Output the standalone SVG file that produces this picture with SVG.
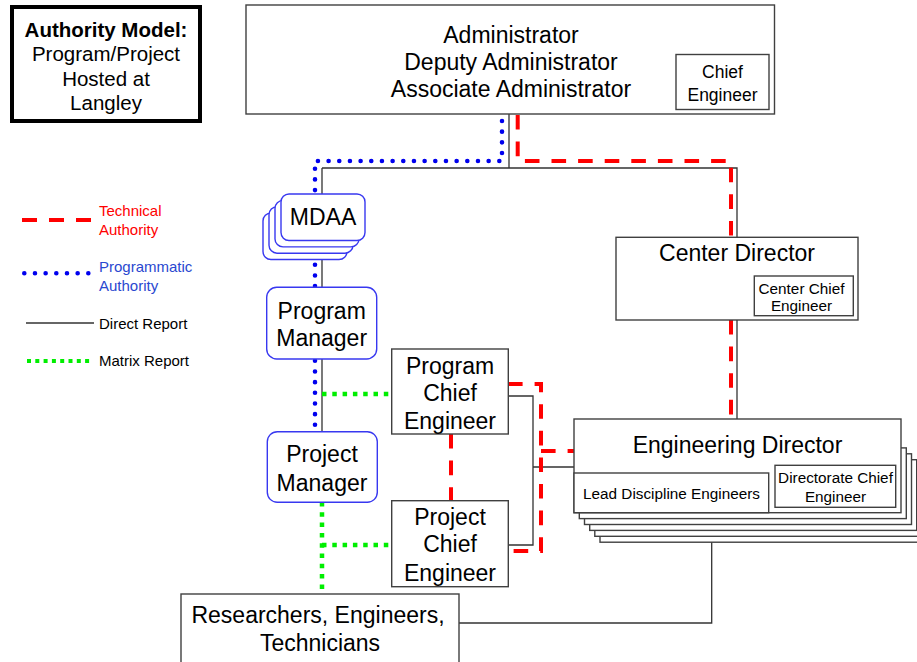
<svg xmlns="http://www.w3.org/2000/svg" width="917" height="662" viewBox="0 0 917 662">
<style>
text{font-family:"Liberation Sans",Arial,sans-serif;fill:#000}
.big{font-size:23px;text-anchor:middle}
.mid{font-size:17.5px;text-anchor:middle}
.sm{font-size:15.3px;text-anchor:middle}
.leg{font-size:15px}
.box{fill:#fff;stroke:#404040;stroke-width:1.4}
.rbox{fill:#fff;stroke:#3838f0;stroke-width:1.4}
.direct{fill:none;stroke:#333;stroke-width:1.3}
.tech{fill:none;stroke:#ff0000;stroke-width:4;stroke-dasharray:14.6 12}
.prog{fill:none;stroke:#0000ee;stroke-width:4.6;stroke-dasharray:0 10.67;stroke-linecap:round}
.matrix{fill:none;stroke:#00ee00;stroke-width:4.5;stroke-dasharray:4.5 5.8}
</style>

<g id="legend">
  <rect x="12" y="7" width="188" height="114" fill="#fff" stroke="#000" stroke-width="4"/>
  <text x="106" y="37" font-size="20.5" font-weight="bold" text-anchor="middle">Authority Model:</text>
  <text x="106" y="61" font-size="20.5" text-anchor="middle">Program/Project</text>
  <text x="106" y="86" font-size="20.5" text-anchor="middle">Hosted at</text>
  <text x="106" y="110" font-size="20.5" text-anchor="middle">Langley</text>
  <path d="M22,220 H91" fill="none" stroke="#ff0000" stroke-width="4" stroke-dasharray="15 12"/>
  <text class="leg" x="99" y="216" style="fill:#ff0000">Technical</text>
  <text class="leg" x="99" y="235" style="fill:#ff0000">Authority</text>
  <path d="M24.3,273.3 H88.4" class="prog"/>
  <text class="leg" x="99" y="272" style="fill:#2a48d0">Programmatic</text>
  <text class="leg" x="99" y="291" style="fill:#2a48d0">Authority</text>
  <path d="M26,323 H94" class="direct"/>
  <text class="leg" x="99" y="329">Direct Report</text>
  <path d="M27,361 H93" fill="none" stroke="#00ee00" stroke-width="4" stroke-dasharray="4 4.3"/>
  <text class="leg" x="99" y="366">Matrix Report</text>
</g>

<g id="connectors">
  <path class="direct" d="M509,114 V168 M322,168 H737 V237 M322,168 V431"/>
  <path class="direct" d="M737,320 V419"/>
  <path class="direct" d="M508,396 H533 V545 H508 M533,467 H574"/>
  <path class="direct" d="M459,623 H711.7 V542"/>
  <path class="prog" d="M502,121 V161 H315 V431"/>
  <path class="tech" d="M517.7,115 V161 H731 V237"/>
  <path class="tech" d="M731,320 V419"/>
  <path class="tech" d="M508,384 H541 V551 H508"/>
  <path class="tech" d="M541,451 H574"/>
  <path class="tech" d="M451,434 V501"/>
  <path class="matrix" d="M322,394 H392"/>
  <path class="matrix" d="M322,502 V594"/>
  <path class="matrix" d="M322,545 H392"/>
</g>

<g id="administrator">
  <rect class="box" x="246" y="5" width="528.5" height="109"/>
  <text class="big" x="511" y="42.5">Administrator</text>
  <text class="big" x="511" y="69.5">Deputy Administrator</text>
  <text class="big" x="511" y="96.5">Associate Administrator</text>
  <rect class="box" x="676" y="54.5" width="93" height="55"/>
  <text class="mid" x="722.5" y="78">Chief</text>
  <text class="mid" x="722.5" y="100.5">Engineer</text>
</g>

<g id="mdaa">
  <rect class="rbox" x="263" y="213" width="84" height="46.5" rx="8"/>
  <rect class="rbox" x="269" y="206.7" width="84" height="46.5" rx="8"/>
  <rect class="rbox" x="275" y="200.4" width="84" height="46.5" rx="8"/>
  <rect class="rbox" x="281" y="194" width="84" height="46.5" rx="8"/>
  <text class="big" x="323" y="225">MDAA</text>
</g>

<g id="center-director">
  <rect class="box" x="616" y="237.3" width="242" height="82.7"/>
  <text class="big" x="737" y="260.5">Center Director</text>
  <rect class="box" x="754.3" y="276" width="99" height="39.7"/>
  <text class="sm" x="801.5" y="293.5">Center Chief</text>
  <text class="sm" x="801.5" y="311">Engineer</text>
</g>

<g id="program-manager">
  <rect class="rbox" x="266.7" y="287.3" width="110" height="71.7" rx="10"/>
  <text class="big" x="321.7" y="318.5">Program</text>
  <text class="big" x="321.7" y="345.5">Manager</text>
</g>

<g id="project-manager">
  <rect class="rbox" x="267.3" y="431.7" width="110" height="70.6" rx="10"/>
  <text class="big" x="322" y="462">Project</text>
  <text class="big" x="322" y="490.5">Manager</text>
</g>

<g id="program-chief-engineer">
  <rect class="box" x="391.7" y="349" width="116.6" height="85"/>
  <text class="big" x="450" y="373.5">Program</text>
  <text class="big" x="450" y="401">Chief</text>
  <text class="big" x="450" y="429">Engineer</text>
</g>

<g id="project-chief-engineer">
  <rect class="box" x="391.7" y="500.7" width="116.6" height="86"/>
  <text class="big" x="450" y="525">Project</text>
  <text class="big" x="450" y="552">Chief</text>
  <text class="big" x="450" y="580.5">Engineer</text>
</g>

<g id="engineering-director">
  <rect class="box" x="600" y="471.5" width="327" height="70.7"/>
  <rect class="box" x="594.8" y="465.6" width="327" height="70.7"/>
  <rect class="box" x="589.7" y="459.7" width="327" height="70.7"/>
  <rect class="box" x="584.5" y="453.8" width="327" height="70.7"/>
  <rect class="box" x="579.3" y="447.9" width="327" height="70.7"/>
  <rect class="box" x="574" y="419" width="327" height="93.7"/>
  <text class="big" x="737.5" y="453.3">Engineering Director</text>
  <rect class="box" x="574" y="473" width="194.7" height="39.7"/>
  <text class="sm" x="671.5" y="499">Lead Discipline Engineers</text>
  <rect class="box" x="775" y="465.3" width="120.7" height="42"/>
  <text class="sm" x="835.5" y="483">Directorate Chief</text>
  <text class="sm" x="835.5" y="502">Engineer</text>
</g>

<g id="researchers">
  <rect class="box" x="181" y="594" width="278" height="80"/>
  <text class="big" x="318" y="623">Researchers, Engineers,</text>
  <text class="big" x="320" y="651">Technicians</text>
</g>
</svg>
